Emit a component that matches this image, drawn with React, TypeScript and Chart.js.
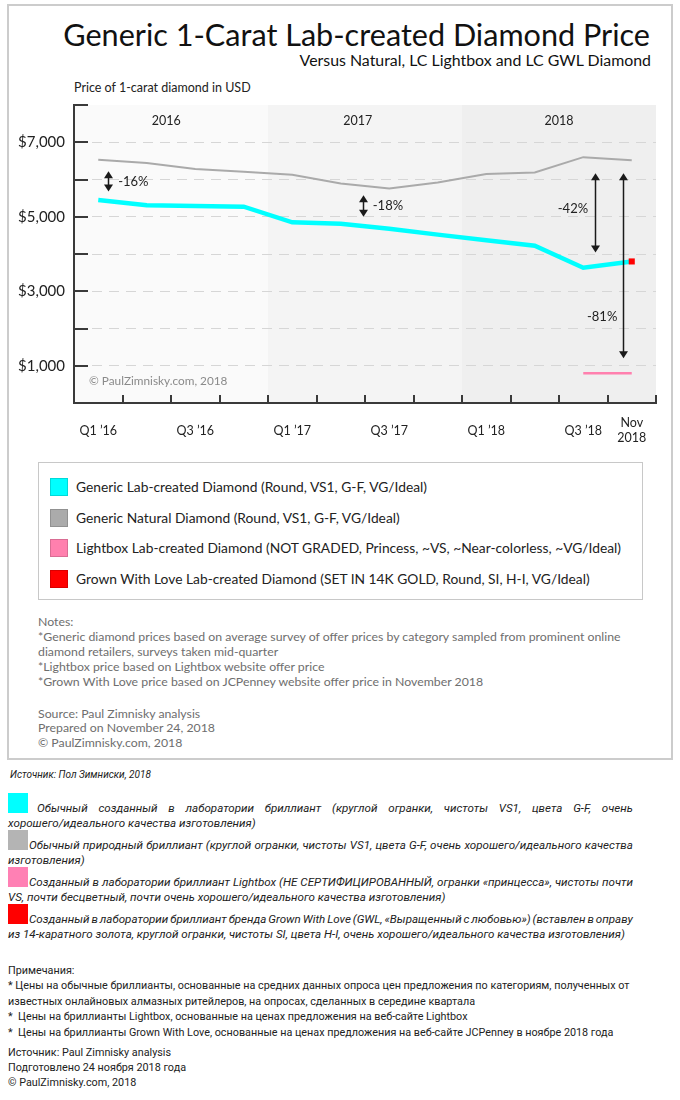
import React, { useEffect, useRef } from 'react';
import { Chart, registerables } from 'chart.js';

Chart.register(...registerables);

// ---------- data ----------
const quarters = ['Q1 ’16', 'Q2 ’16', 'Q3 ’16', 'Q4 ’16', 'Q1 ’17', 'Q2 ’17', 'Q3 ’17', 'Q4 ’17', 'Q1 ’18', 'Q2 ’18', 'Q3 ’18', 'Nov 2018'];
const xTickIndices = [0, 2, 4, 6, 8, 10, 11];
const xTickLabels = ['Q1 ’16', 'Q3 ’16', 'Q1 ’17', 'Q3 ’17', 'Q1 ’18', 'Q3 ’18', 'Nov\n2018'];

const genericLabPrices = [5450, 5310, 5290, 5270, 4850, 4810, 4680, 4520, 4370, 4220, 3630, 3800];
const genericNaturalPrices = [6530, 6440, 6280, 6210, 6130, 5890, 5760, 5920, 6150, 6190, 6600, 6520];
const lightboxPrices = [null, null, null, null, null, null, null, null, null, null, 800, 800];
const gwlPrices = [null, null, null, null, null, null, null, null, null, null, null, 3800];

const yMin = 0;
const yMax = 8000;
const yStep = 1000;
const yLabeledTicks = [1000, 3000, 5000, 7000];

const yearLabels = ['2016', '2017', '2018'];
const yearFirstQuarter = [0, 4, 8];
const yearLabelX = [1.4, 5.35, 9.5];
const yearLabelY = 7580;

const diffLabels = ['-16%', '-18%', '-42%', '-81%'];
const diffArrowX = [0.2, 5.45, 10.24, 10.81];
const diffArrowTop = [6220, 5580, 6170, 6170];
const diffArrowBottom = [5680, 5000, 4040, 1200];
const diffLabelX = [0.41, 5.66, 10.1, 10.39];
const diffLabelY = [5930, 5285, 5223, 2316];
const diffLabelAlign = ['left', 'left', 'right', 'center'];

const watermark = '© PaulZimnisky.com, 2018';
const watermarkX = -0.19;
const watermarkY = 577;

const titleText = 'Generic 1-Carat Lab-created Diamond Price';
const subtitleText = 'Versus Natural, LC Lightbox and LC GWL Diamond';
const yAxisTitle = 'Price of 1-carat diamond in USD';

const legendLabels = [
  'Generic Lab-created Diamond (Round, VS1, G-F, VG/Ideal)',
  'Generic Natural Diamond (Round, VS1, G-F, VG/Ideal)',
  'Lightbox Lab-created Diamond (NOT GRADED, Princess, ~VS, ~Near-colorless, ~VG/Ideal)',
  'Grown With Love Lab-created Diamond (SET IN 14K GOLD, Round, SI, H-I, VG/Ideal)',
];
const legendColors = ['#00ffff', '#ababab', '#ff80ae', '#ff0000'];

const notesLines = [
  'Notes:',
  '*Generic diamond prices based on average survey of offer prices by category sampled from prominent online',
  'diamond retailers, surveys taken mid-quarter',
  '*Lightbox price based on Lightbox website offer price',
  '*Grown With Love price based on JCPenney website offer price in November 2018',
];
const sourceLines = ['Source: Paul Zimnisky analysis', 'Prepared on November 24, 2018', '© PaulZimnisky.com, 2018'];

const ruSource = 'Источник: Пол Зимниски, 2018';
const ruLegendFirst = [
  'Обычный созданный в лаборатории бриллиант (круглой огранки, чистоты VS1, цвета G-F, очень',
  'Обычный природный бриллиант (круглой огранки, чистоты VS1, цвета G-F, очень хорошего/идеального качества',
  'Созданный в лаборатории бриллиант Lightbox (НЕ СЕРТИФИЦИРОВАННЫЙ, огранки «принцесса», чистоты почти',
  'Созданный в лаборатории бриллиант бренда Grown With Love (GWL, «Выращенный с любовью») (вставлен в оправу',
];
const ruLegendSecond = [
  'хорошего/идеального качества изготовления)',
  'изготовления)',
  'VS, почти бесцветный, почти очень хорошего/идеального качества изготовления)',
  'из 14-каратного золота, круглой огранки, чистоты SI, цвета H-I, очень хорошего/идеального качества изготовления)',
];
const ruLegendColors = ['#00ffff', '#b4b4b4', '#ff80b4', '#ff0000'];
const ruNotesLines = [
  'Примечания:',
  '* Цены на обычные бриллианты, основанные на средних данных опроса цен предложения по категориям, полученных от',
  'известных онлайновых алмазных ритейлеров, на опросах, сделанных в середине квартала',
  '*  Цены на бриллианты Lightbox, основанные на ценах предложения на веб-сайте Lightbox',
  '*  Цены на бриллианты Grown With Love, основанные на ценах предложения на веб-сайте JCPenney в ноябре 2018 года',
];
const ruSourceLines = ['Источник: Paul Zimnisky analysis', 'Подготовлено 24 ноября 2018 года', '© PaulZimnisky.com, 2018'];

// ---------- chart ----------
const LATO = 'Lato, "Open Sans", sans-serif';
const ROBOTO = 'Roboto, "Noto Sans", sans-serif';
const bandColors = ['#fafafa', '#f4f4f4', '#efefef'];
const axisColor = '#3a3a3a';

function toPoints(arr: (number | null)[]) {
  const out: { x: number; y: number }[] = [];
  arr.forEach((v, i) => {
    if (v !== null) out.push({ x: i, y: v });
  });
  return out;
}

function PriceChart() {
  const ref = useRef<HTMLCanvasElement>(null);
  useEffect(() => {
    const canvas = ref.current;
    if (!canvas) return;

    const decorations = {
      id: 'decorations',
      beforeDraw(chart: any) {
        const { ctx, chartArea: a, scales } = chart;
        const x = scales.x;
        ctx.save();
        yearFirstQuarter.forEach((q, i) => {
          const x0 = x.getPixelForValue(q - 0.5);
          const x1 = x.getPixelForValue(q + 3.5);
          ctx.fillStyle = bandColors[i];
          ctx.fillRect(x0, a.top, x1 - x0, a.bottom - a.top);
        });
        ctx.restore();
      },
      afterDatasetsDraw(chart: any) {
        const { ctx, chartArea: a, scales } = chart;
        const x = scales.x;
        const y = scales.y;
        ctx.save();
        ctx.strokeStyle = axisColor;
        ctx.lineWidth = 2;
        for (let v = yMin + yStep; v <= yMax; v += yStep) {
          const py = Math.round(y.getPixelForValue(v));
          ctx.beginPath();
          ctx.moveTo(a.left, py);
          ctx.lineTo(a.left + 14, py);
          ctx.stroke();
        }
        for (let k = 0; k < quarters.length; k++) {
          const px = Math.round(x.getPixelForValue(k + 0.5));
          ctx.beginPath();
          ctx.moveTo(px, a.bottom);
          ctx.lineTo(px, a.bottom - 8);
          ctx.stroke();
        }
        ctx.fillStyle = '#222';
        ctx.font = `12.5px ${LATO}`;
        ctx.textAlign = 'center';
        ctx.textBaseline = 'middle';
        yearLabels.forEach((t, i) => {
          ctx.fillText(t, x.getPixelForValue(yearLabelX[i]), y.getPixelForValue(yearLabelY));
        });
        ctx.strokeStyle = '#1a1a1a';
        ctx.fillStyle = '#1a1a1a';
        ctx.lineWidth = 1.5;
        diffLabels.forEach((t, i) => {
          const px = Math.round(x.getPixelForValue(diffArrowX[i])) + 0.5;
          const yt = y.getPixelForValue(diffArrowTop[i]);
          const yb = y.getPixelForValue(diffArrowBottom[i]);
          ctx.beginPath();
          ctx.moveTo(px, yt + 4);
          ctx.lineTo(px, yb - 4);
          ctx.stroke();
          ctx.beginPath();
          ctx.moveTo(px, yt);
          ctx.lineTo(px - 4.5, yt + 7);
          ctx.lineTo(px + 4.5, yt + 7);
          ctx.closePath();
          ctx.fill();
          ctx.beginPath();
          ctx.moveTo(px, yb);
          ctx.lineTo(px - 4.5, yb - 7);
          ctx.lineTo(px + 4.5, yb - 7);
          ctx.closePath();
          ctx.fill();
        });
        ctx.fillStyle = '#222';
        ctx.font = `13px ${LATO}`;
        diffLabels.forEach((t, i) => {
          ctx.textAlign = diffLabelAlign[i] as CanvasTextAlign;
          ctx.fillText(t, x.getPixelForValue(diffLabelX[i]), y.getPixelForValue(diffLabelY[i]));
        });
        ctx.fillStyle = '#8a8a8a';
        ctx.font = `11.8px ${LATO}`;
        ctx.textAlign = 'left';
        ctx.fillText(watermark, x.getPixelForValue(watermarkX), y.getPixelForValue(watermarkY));
        ctx.restore();
      },
    };

    const chart = new Chart(canvas, {
      type: 'line',
      data: {
        datasets: [
          {
            label: 'Grown With Love',
            data: toPoints(gwlPrices),
            showLine: false,
            pointStyle: 'rect',
            pointRadius: 4.3,
            pointBackgroundColor: '#ff0000',
            pointBorderWidth: 0,
            borderColor: '#ff0000',
          },
          {
            label: 'Generic Lab-created',
            data: toPoints(genericLabPrices),
            borderColor: '#00ffff',
            borderWidth: 4.5,
            pointRadius: 0,
            tension: 0,
          },
          {
            label: 'Lightbox',
            data: toPoints(lightboxPrices),
            borderColor: '#ff80ae',
            borderWidth: 2.5,
            pointRadius: 0,
          },
          {
            label: 'Generic Natural',
            data: toPoints(genericNaturalPrices),
            borderColor: '#aaaaaa',
            borderWidth: 2,
            pointRadius: 0,
            tension: 0,
          },
        ],
      },
      options: {
        animation: false,
        responsive: false,
        maintainAspectRatio: false,
        layout: { padding: { left: 0, top: 10, right: 24, bottom: 0 } },
        plugins: {
          legend: { display: false },
          tooltip: { enabled: false },
          title: { display: false },
        },
        scales: {
          x: {
            type: 'linear',
            min: -0.5,
            max: quarters.length - 0.5,
            afterBuildTicks: (s: any) => {
              s.ticks = xTickIndices.map((v) => ({ value: v }));
            },
            afterFit: (s: any) => {
              s.height = 52;
              s.paddingLeft = 0;
              s.paddingRight = 0;
            },
            grid: { display: false, drawTicks: false },
            border: { display: true, color: axisColor, width: 2 },
            ticks: {
              autoSkip: false,
              maxRotation: 0,
              minRotation: 0,
              padding: 20,
              crossAlign: 'center',
              color: '#222',
              font: { family: LATO, size: 12.5 },
              callback: (v: any) => {
                const idx = xTickIndices.indexOf(Number(v));
                if (idx < 0) return '';
                const l = xTickLabels[idx];
                return l.includes('\n') ? l.split('\n') : l;
              },
            },
          },
          y: {
            min: yMin,
            max: yMax,
            afterFit: (s: any) => {
              s.width = 74;
              s.paddingTop = 0;
              s.paddingBottom = 0;
            },
            grid: {
              drawTicks: false,
              lineWidth: 1,
              color: (c: any) =>
                c.tick && (c.tick.value === yMin || c.tick.value === yMax) ? 'rgba(0,0,0,0)' : '#d6d6d6',
            },
            border: { display: true, color: axisColor, width: 2, dash: [10, 7] },
            ticks: {
              stepSize: yStep,
              padding: 9,
              color: '#222',
              font: { family: LATO, size: 15 },
              callback: (v: any) =>
                yLabeledTicks.includes(Number(v)) ? '$' + Number(v).toLocaleString('en-US') : '',
            },
          },
        },
      },
      plugins: [decorations],
    } as any);
    return () => chart.destroy();
  }, []);
  return (
    <canvas
      ref={ref}
      width={680}
      height={360}
      style={{ position: 'absolute', left: 0, top: 95, width: 680, height: 360 }}
    />
  );
}

// ---------- page ----------
function Line(props: { x: number; cy: number; size: number; lh: number; font?: string; color?: string; italic?: boolean; children: any }) {
  const { x, cy, size, lh, font, color, italic, children } = props;
  return (
    <div
      style={{
        position: 'absolute',
        left: x,
        top: cy - lh / 2,
        fontFamily: font || LATO,
        fontSize: size,
        lineHeight: lh + 'px',
        color: color || '#222',
        fontStyle: italic ? 'italic' : 'normal',
        whiteSpace: 'pre',
      }}
    >
      {children}
    </div>
  );
}

function JustLine(props: { x: number; right: number; cy: number; size: number; lh: number; text: string }) {
  const { x, right, cy, size, lh, text } = props;
  const words = text.split(' ');
  return (
    <div
      style={{
        position: 'absolute',
        left: x,
        top: cy - lh / 2,
        width: right - x,
        height: lh,
        display: 'flex',
        justifyContent: 'space-between',
        fontFamily: ROBOTO,
        fontSize: size,
        lineHeight: lh + 'px',
        color: '#222',
        fontStyle: 'italic',
        whiteSpace: 'pre',
      }}
    >
      {words.map((w, i) => (
        <span key={i}>{w}</span>
      ))}
    </div>
  );
}

export default function App() {
  return (
    <div style={{ position: 'absolute', left: 0, top: 0, width: 680, height: 1100, background: '#fff', overflow: 'hidden' }}>
      <div
        style={{
          position: 'absolute',
          left: 7,
          top: 4,
          width: 666,
          height: 756,
          border: '2px solid #cccccc',
          boxSizing: 'border-box',
        }}
      />
      <div
        style={{
          position: 'absolute',
          right: 30,
          top: 35 - 20,
          fontFamily: LATO,
          fontSize: 30.6,
          lineHeight: '40px',
          color: '#111',
          whiteSpace: 'nowrap',
        }}
      >
        {titleText}
      </div>
      <div
        style={{
          position: 'absolute',
          right: 29,
          top: 60 - 10,
          fontFamily: LATO,
          fontSize: 15.9,
          lineHeight: '20px',
          color: '#111',
          whiteSpace: 'nowrap',
        }}
      >
        {subtitleText}
      </div>
      <Line x={74} cy={88} size={12.5} lh={16}>{yAxisTitle}</Line>

      <PriceChart />

      <div
        style={{
          position: 'absolute',
          left: 38,
          top: 462,
          width: 605,
          height: 138,
          border: '1.5px solid #c8c8c8',
          boxSizing: 'border-box',
        }}
      />
      {legendLabels.map((t, i) => {
        const cy = 487 + i * 30.5;
        return (
          <React.Fragment key={t}>
            <div
              style={{
                position: 'absolute',
                left: 50,
                top: cy - 9,
                width: 18,
                height: 18,
                background: legendColors[i],
                border: '1px solid rgba(0,0,0,0.15)',
                boxSizing: 'border-box',
              }}
            />
            <Line x={76} cy={cy} size={13.8} lh={18}>{t}</Line>
          </React.Fragment>
        );
      })}

      {notesLines.map((t, i) => (
        <Line key={'n' + i} x={38} cy={621 + i * 15} size={12.3} lh={15} color="#6e6e6e">{t}</Line>
      ))}
      {sourceLines.map((t, i) => (
        <Line key={'s' + i} x={38} cy={713 + i * 14.7} size={12.3} lh={15} color="#6e6e6e">{t}</Line>
      ))}

      <Line x={10} cy={774} size={10} lh={13} font={ROBOTO} italic>{ruSource}</Line>
      {ruLegendFirst.map((t, i) => {
        const top = 793 + i * 37;
        return (
          <React.Fragment key={'r' + i}>
            <div
              style={{
                position: 'absolute',
                left: 8,
                top: top,
                width: 20,
                height: 20,
                background: ruLegendColors[i],
              }}
            />
            <JustLine x={i === 0 ? 37 : 29} right={633} cy={top + 15} size={11.6} lh={14} text={t} />
            <Line x={8} cy={top + 30} size={11.6} lh={14} font={ROBOTO} italic>
              {ruLegendSecond[i]}
            </Line>
          </React.Fragment>
        );
      })}

      {ruNotesLines.map((t, i) => (
        <Line key={'rn' + i} x={8} cy={970 + i * 15.5} size={10.8} lh={15} font={ROBOTO}>{t}</Line>
      ))}
      {ruSourceLines.map((t, i) => (
        <Line key={'rs' + i} x={8} cy={1052 + i * 15} size={10.8} lh={15} font={ROBOTO}>{t}</Line>
      ))}
    </div>
  );
}
